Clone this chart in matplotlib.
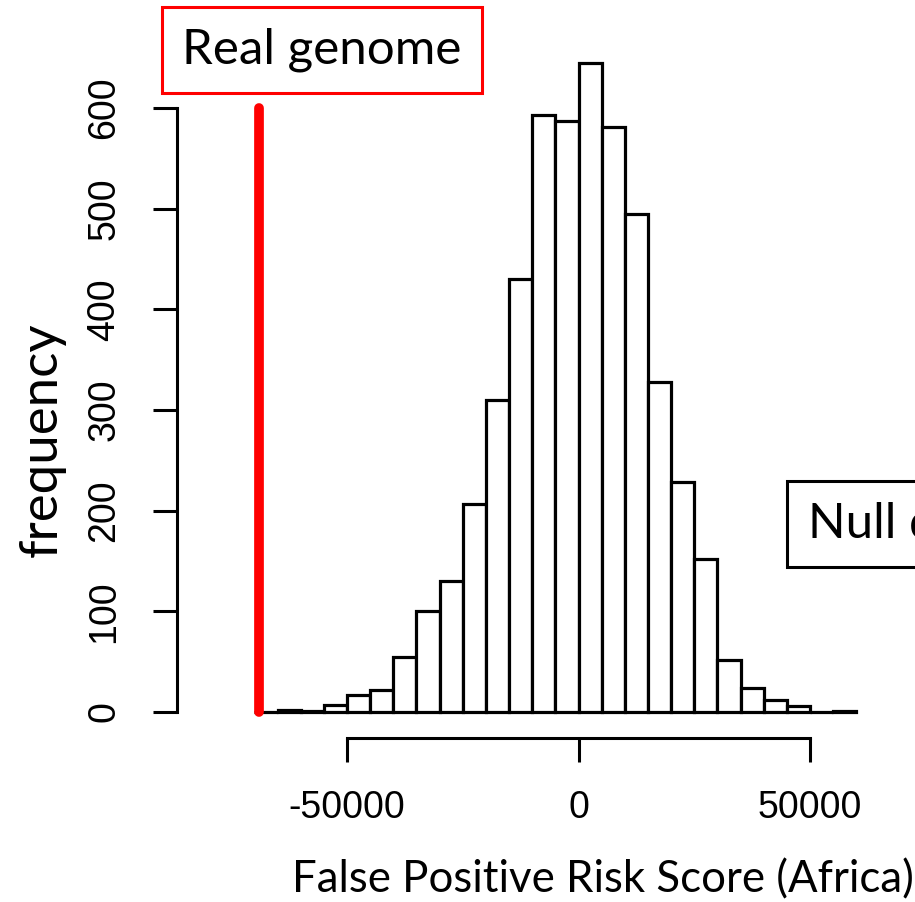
import matplotlib
matplotlib.use("Agg")
import matplotlib.pyplot as plt

# histogram of the null distribution (bin left edges, width 5000)
bin_left = [-70000, -65000, -60000, -55000, -50000, -45000, -40000, -35000,
            -30000, -25000, -20000, -15000, -10000, -5000, 0, 5000, 10000,
            15000, 20000, 25000, 30000, 35000, 40000, 45000, 50000, 55000]
counts = [0, 2, 1, 7, 17, 22, 55, 100, 130, 207, 310, 430, 593, 587, 645,
          581, 495, 328, 228, 152, 52, 24, 12, 6, 0, 1]
bin_width = 5000
real_score = -69000
y_ticks = [0, 100, 200, 300, 400, 500, 600]
x_ticks = [-50000, 0, 50000]

# pixel -> data helpers for laying things out like the R figure
def px2x(px):
    return (px - 578.5) / 0.00463

def px2y(py):
    return (712 - py) / 1.0067

fig = plt.figure(figsize=(9.15, 9.02), dpi=100)
ax = fig.add_axes([0, 0, 1, 1])
ax.set_xlim(px2x(0), px2x(915))
ax.set_ylim(px2y(902), px2y(0))

ax.bar(bin_left, counts, width=bin_width, align='edge', color='white',
       edgecolor='black', linewidth=2.3, zorder=2)

# red line for the real genome
ax.plot([real_score, real_score], [0, 600], color='red', linewidth=7,
        solid_capstyle='round', zorder=3)

# R style detached axes
for s in ['top', 'right']:
    ax.spines[s].set_visible(False)
ax.spines['left'].set_position(('data', px2x(177)))
ax.spines['left'].set_bounds(0, 600)
ax.spines['bottom'].set_position(('data', px2y(738)))
ax.spines['bottom'].set_bounds(-50000, 50000)
for s in ['left', 'bottom']:
    ax.spines[s].set_linewidth(2.2)

ax.set_xticks(x_ticks)
ax.set_xticklabels([str(v) for v in x_ticks], fontfamily='Liberation Sans', fontsize=27)
ax.set_yticks(y_ticks)
ax.set_yticklabels([str(v) for v in y_ticks], fontfamily='Liberation Sans', fontsize=27,
                   rotation=90, va='center')
ax.tick_params(axis='both', length=17.3, width=2.2)
ax.tick_params(axis='x', pad=20)
ax.tick_params(axis='y', pad=22)

fig.text(42 / 915, 1 - 440 / 902, 'frequency', rotation=90, ha='center', va='center',
         fontfamily='Lato', fontsize=38)
fig.text(603 / 915, 1 - 880 / 902, 'False Positive Risk Score (Africa)', ha='center',
         va='center', fontfamily='Lato', fontsize=31.5)

fig.text(322 / 915, 1 - 50 / 902, 'Real genome', ha='center', va='center',
         fontfamily='Lato', fontsize=35.5,
         bbox=dict(boxstyle='square,pad=0.42', facecolor='white', edgecolor='red', linewidth=2.2))
fig.text(808 / 915, 1 - 524 / 902, 'Null distribution', ha='left', va='center',
         fontfamily='Lato', fontsize=35.5,
         bbox=dict(boxstyle='square,pad=0.42', facecolor='white', edgecolor='black', linewidth=2.2))

fig.savefig('out.png', dpi=100)
